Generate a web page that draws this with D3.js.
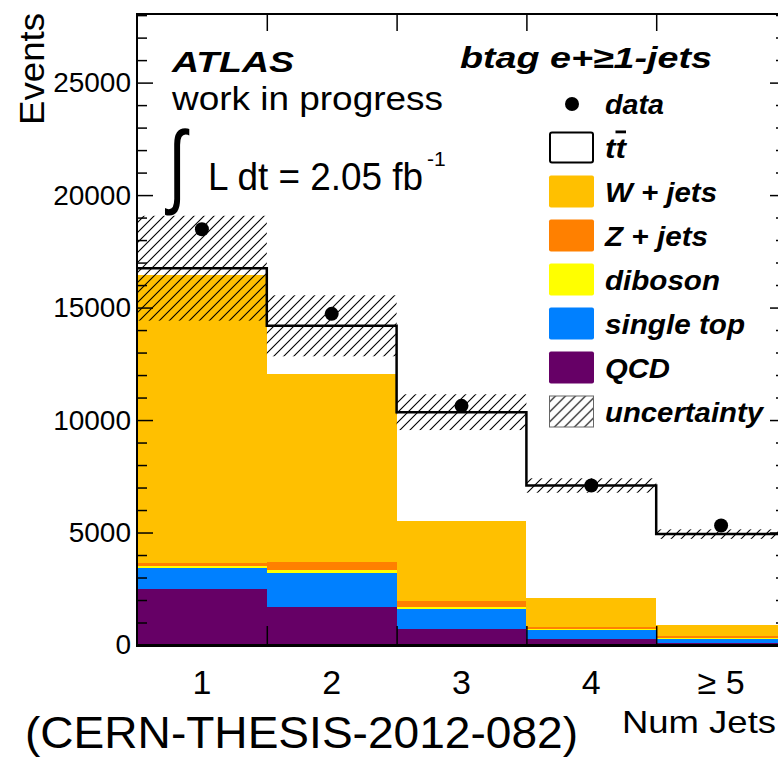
<!DOCTYPE html>
<html>
<head>
<meta charset="utf-8">
<script src="https://cdn.jsdelivr.net/npm/d3@7/dist/d3.min.js"></script>
<style>
  body { margin: 0; background: #fff; }
  text { font-family: "Liberation Sans", Arial, Helvetica, sans-serif; }
  .bi { font-weight: bold; font-style: italic; }
</style>
</head>
<body>
<svg id="chart" width="778" height="759"></svg>
<script>
// values, one entry per jet-multiplicity bin
var bins = ["1", "2", "3", "4", "\u2265 5"];
var qcd = [2480, 1710, 720, 275, 100];
var singleTop = [950, 1470, 890, 370, 175];
var diboson = [90, 160, 90, 60, 30];
var zJets = [120, 360, 265, 115, 75];
var wJets = [12810, 8350, 3565, 1280, 520];
var ttbar = [300, 2140, 4820, 4990, 4030];
var dataPts = [18480, 14720, 10630, 7090, 5310];
var uncert = [2330, 1355, 795, 320, 210];
var yTicks = [0, 5000, 10000, 15000, 20000, 25000];
var yMinor = d3.range(0, 28001, 1000).filter(function (v) { return v % 5000 !== 0; });

var keys = ["qcd", "singleTop", "diboson", "zJets", "wJets", "ttbar"];
var colors = { qcd: "#660066", singleTop: "#0080ff", diboson: "#ffff00", zJets: "#ff8000", wJets: "#ffc000", ttbar: "#ffffff" };
var legendKeys = ["data", "ttbar", "wJets", "zJets", "diboson", "singleTop", "qcd", "uncert"];
var legendNames = ["data", "tt", "W + jets", "Z + jets", "diboson", "single top", "QCD", "uncertainty"];
var legendWidths = [59, 21, 112, 103, 115, 140, 65, 158];

var svg = d3.select("#chart");
var padL = 137, padR = 786, padT = 14, padB = 645;

var rows = bins.map(function (b, i) {
    return { bin: b, qcd: qcd[i], singleTop: singleTop[i], diboson: diboson[i], zJets: zJets[i], wJets: wJets[i], ttbar: ttbar[i] };
});
var stacked = d3.stack().keys(keys)(rows);
var totals = rows.map(function (r) { return d3.sum(keys, function (k) { return r[k]; }); });

var x = d3.scaleBand().domain(bins).range([padL, padR]).padding(0);
var xEdge = d3.scaleLinear().domain([0, bins.length]).range([padL, padR]);
var y = d3.scaleLinear().domain([0, 28050]).range([padB, padT]);

// hatch for the systematic band
var defs = svg.append("defs");
defs.append("pattern").attr("id", "hatch").attr("patternUnits", "userSpaceOnUse")
    .attr("width", 10).attr("height", 10)
    .append("path").attr("d", "M-1,11 L11,-1 M-1,1 L1,-1 M9,11 L11,9")
    .attr("stroke", "#000").attr("stroke-width", 1.1);

// stacked backgrounds
svg.append("g").selectAll("g").data(stacked).enter().append("g")
    .attr("fill", function (d) { return colors[d.key]; })
    .selectAll("rect").data(function (d) { return d; }).enter().append("rect")
    .attr("shape-rendering", "crispEdges")
    .attr("x", function (d) { return x(d.data.bin); })
    .attr("width", x.bandwidth() + 0.5)
    .attr("y", function (d) { return y(d[1]); })
    .attr("height", function (d) { return y(d[0]) - y(d[1]); });

// uncertainty band
svg.append("g").selectAll("rect").data(bins).enter().append("rect")
    .attr("x", function (d) { return x(d); })
    .attr("width", x.bandwidth())
    .attr("y", function (d, i) { return y(totals[i] + uncert[i]); })
    .attr("height", function (d, i) { return y(totals[i] - uncert[i]) - y(totals[i] + uncert[i]); })
    .attr("fill", "url(#hatch)");

// ttbar outline (step)
var steps = [];
bins.forEach(function (b, i) {
    steps.push([xEdge(i), y(totals[i])]);
    steps.push([xEdge(i + 1), y(totals[i])]);
});
svg.append("path").attr("d", d3.line()(steps))
    .attr("fill", "none").attr("stroke", "#000").attr("stroke-width", 2.5);

// data points
svg.append("g").selectAll("circle").data(dataPts).enter().append("circle")
    .attr("cx", function (d, i) { return x(bins[i]) + x.bandwidth() / 2; })
    .attr("cy", function (d) { return y(d); })
    .attr("r", 7).attr("fill", "#000");

// axes (ROOT style, ticks pointing inwards)
function clean(g) { g.select(".domain").remove(); g.selectAll("line").attr("stroke", "#000").attr("stroke-width", 1.5); }
svg.append("g").attr("transform", "translate(" + padL + ",0)")
    .call(d3.axisLeft(y).tickValues(yTicks).tickSize(-16).tickPadding(6).tickFormat(d3.format("d")))
    .call(clean)
    .selectAll("text").attr("font-size", 28).attr("font-family", "Liberation Sans, Arial, sans-serif").attr("fill", "#000");
svg.append("g").attr("transform", "translate(" + padL + ",0)")
    .call(d3.axisLeft(y).tickValues(yMinor).tickSize(-10).tickFormat(""))
    .call(clean);
svg.append("g").attr("transform", "translate(" + padR + ",0)")
    .call(d3.axisRight(y).tickValues(yTicks).tickSize(-16).tickFormat(""))
    .call(clean);
svg.append("g").attr("transform", "translate(" + padR + ",0)")
    .call(d3.axisRight(y).tickValues(yMinor).tickSize(-10).tickFormat(""))
    .call(clean);
svg.append("g").attr("transform", "translate(0," + padB + ")")
    .call(d3.axisBottom(xEdge).tickValues([1, 2, 3, 4]).tickSize(-19).tickFormat(""))
    .call(clean);
svg.append("g").attr("transform", "translate(0," + padT + ")")
    .call(d3.axisTop(xEdge).tickValues([1, 2, 3, 4]).tickSize(-17).tickFormat(""))
    .call(clean);
svg.append("g").attr("transform", "translate(0," + padB + ")")
    .call(d3.axisBottom(x).tickSize(0).tickPadding(25))
    .call(function (g) { g.select(".domain").remove(); })
    .selectAll("text").attr("font-size", 34).attr("font-family", "Liberation Sans, Arial, sans-serif").attr("fill", "#000");

// frame
svg.append("path")
    .attr("d", "M" + padR + "," + padT + "H" + padL + "V" + padB)
    .attr("fill", "none").attr("stroke", "#000").attr("stroke-width", 2);
svg.append("line").attr("x1", padR).attr("x2", padR).attr("y1", padT).attr("y2", padB)
    .attr("stroke", "#000").attr("stroke-width", 2);
svg.append("line").attr("x1", padL - 1).attr("x2", padR).attr("y1", padB + 0.5).attr("y2", padB + 0.5)
    .attr("stroke", "#000").attr("stroke-width", 3);

// axis titles
svg.append("text").attr("transform", "translate(44,13) rotate(-90)")
    .attr("text-anchor", "end").attr("font-size", 35)
    .attr("textLength", 112).attr("lengthAdjust", "spacingAndGlyphs").text("Events");
svg.append("text").attr("x", 622).attr("y", 733).attr("font-size", 32)
    .attr("textLength", 154).attr("lengthAdjust", "spacingAndGlyphs").text("Num Jets");
svg.append("text").attr("x", 25).attr("y", 748).attr("font-size", 44)
    .attr("textLength", 553).attr("lengthAdjust", "spacingAndGlyphs").text("(CERN-THESIS-2012-082)");

// ATLAS label block
svg.append("text").attr("class", "bi").attr("x", 172).attr("y", 72).attr("font-size", 30)
    .attr("textLength", 122).attr("lengthAdjust", "spacingAndGlyphs").text("ATLAS");
svg.append("text").attr("x", 172).attr("y", 110).attr("font-size", 34)
    .attr("textLength", 271).attr("lengthAdjust", "spacingAndGlyphs").text("work in progress");
svg.append("text").attr("x", 168).attr("y", 196).attr("font-size", 92)
    .attr("font-family", "DejaVu Sans").attr("textLength", 18).attr("lengthAdjust", "spacingAndGlyphs")
    .text("\u222b");
svg.append("text").attr("x", 208).attr("y", 190).attr("font-size", 38)
    .attr("textLength", 215).attr("lengthAdjust", "spacingAndGlyphs").text("L dt = 2.05 fb");
svg.append("text").attr("x", 427).attr("y", 166).attr("font-size", 21).text("-1");

svg.append("text").attr("class", "bi").attr("x", 460).attr("y", 68).attr("font-size", 30)
    .attr("textLength", 252).attr("lengthAdjust", "spacingAndGlyphs").text("btag e+\u22651-jets");

// legend
var leg = svg.append("g").selectAll("g").data(legendKeys).enter().append("g")
    .attr("transform", function (d, i) { return "translate(0," + (i === 0 ? 104 : 147.5 + 44 * (i - 1)) + ")"; });
leg.each(function (k) {
    var g = d3.select(this);
    if (k === "data") {
        g.append("circle").attr("cx", 572).attr("cy", 0).attr("r", 7).attr("fill", "#000");
    } else if (k === "uncert") {
        g.append("rect").attr("x", 549.5).attr("y", -15.5).attr("width", 44).attr("height", 31)
            .attr("fill", "url(#hatch)").attr("stroke", "#666").attr("stroke-width", 1);
    } else if (k === "ttbar") {
        g.append("rect").attr("x", 550).attr("y", -15).attr("width", 43).attr("height", 30).attr("rx", 2)
            .attr("fill", "#fff").attr("stroke", "#000").attr("stroke-width", 2);
    } else {
        g.append("rect").attr("x", 549).attr("y", -16).attr("width", 45).attr("height", 32).attr("rx", 2)
            .attr("fill", colors[k]);
    }
});
leg.append("text").attr("class", "bi").attr("x", 605).attr("y", 10).attr("font-size", 28)
    .attr("textLength", function (d, i) { return legendWidths[i]; })
    .attr("lengthAdjust", "spacingAndGlyphs")
    .each(function (k, i) {
        var t = d3.select(this);
        if (k === "ttbar") {
            t.append("tspan").text("t");
            t.append("tspan").style("text-decoration", "overline").text("t");
        } else {
            t.text(legendNames[i]);
        }
    });
</script>
</body>
</html>
